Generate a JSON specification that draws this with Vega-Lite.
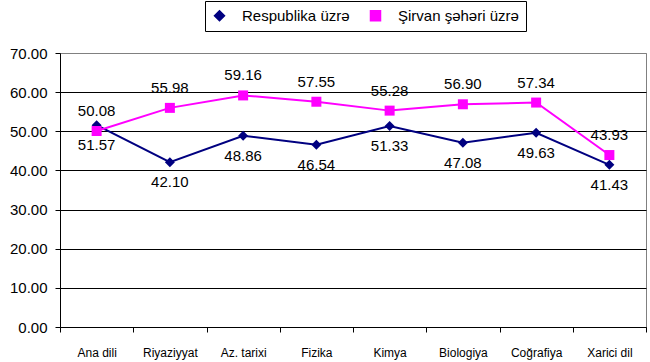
{
  "$schema": "https://vega.github.io/schema/vega-lite/v6.json",
  "width": 586,
  "height": 274,
  "autosize": {"type": "none"},
  "padding": {"left": 60, "top": 53, "right": 4, "bottom": 35},
  "background": "white",
  "config": {
    "font": "Liberation Sans",
    "view": {"stroke": "#808080", "strokeWidth": 1}
  },
  "data": {
    "values": [
      {"subject": "Ana dili", "series": "Respublika üzrə", "value": 51.57},
      {"subject": "Riyaziyyat", "series": "Respublika üzrə", "value": 42.10},
      {"subject": "Az. tarixi", "series": "Respublika üzrə", "value": 48.86},
      {"subject": "Fizika", "series": "Respublika üzrə", "value": 46.54},
      {"subject": "Kimya", "series": "Respublika üzrə", "value": 51.33},
      {"subject": "Biologiya", "series": "Respublika üzrə", "value": 47.08},
      {"subject": "Coğrafiya", "series": "Respublika üzrə", "value": 49.63},
      {"subject": "Xarici dil", "series": "Respublika üzrə", "value": 41.43},
      {"subject": "Ana dili", "series": "Şirvan şəhəri üzrə", "value": 50.08},
      {"subject": "Riyaziyyat", "series": "Şirvan şəhəri üzrə", "value": 55.98},
      {"subject": "Az. tarixi", "series": "Şirvan şəhəri üzrə", "value": 59.16},
      {"subject": "Fizika", "series": "Şirvan şəhəri üzrə", "value": 57.55},
      {"subject": "Kimya", "series": "Şirvan şəhəri üzrə", "value": 55.28},
      {"subject": "Biologiya", "series": "Şirvan şəhəri üzrə", "value": 56.90},
      {"subject": "Coğrafiya", "series": "Şirvan şəhəri üzrə", "value": 57.34},
      {"subject": "Xarici dil", "series": "Şirvan şəhəri üzrə", "value": 43.93}
    ]
  },
  "encoding": {
    "x": {
      "field": "subject",
      "type": "nominal",
      "sort": null,
      "scale": {"type": "band", "paddingInner": 0, "paddingOuter": 0},
      "axis": {
        "title": null,
        "labelAngle": 0,
        "tickBand": "extent",
        "tickSize": 5,
        "tickColor": "black",
        "domainColor": "black",
        "labelFontSize": 12,
        "labelColor": "black",
        "labelPadding": 15,
        "grid": false
      }
    },
    "y": {
      "field": "value",
      "type": "quantitative",
      "scale": {"domain": [0, 70], "nice": false},
      "axis": {
        "title": null,
        "values": [0, 10, 20, 30, 40, 50, 60, 70],
        "format": ".2f",
        "labelFontSize": 15,
        "labelColor": "black",
        "tickColor": "black",
        "tickSize": 5,
        "domainColor": "black",
        "gridColor": {"condition": {"test": "datum.value === 70", "value": "#808080"}, "value": "black"},
        "gridOpacity": 1,
        "labelPadding": 8
      }
    }
  },
  "layer": [
    {
      "mark": {"type": "line", "strokeWidth": 2},
      "encoding": {
        "color": {
          "field": "series",
          "type": "nominal",
          "sort": null,
          "scale": {"domain": ["Respublika üzrə", "Şirvan şəhəri üzrə"], "range": ["#000080", "#FF00FF"]}
        }
      }
    },
    {
      "mark": {"type": "point", "filled": true, "opacity": 1, "size": 100},
      "encoding": {
        "color": {
          "field": "series",
          "type": "nominal",
          "sort": null,
          "scale": {"domain": ["Respublika üzrə", "Şirvan şəhəri üzrə"], "range": ["#000080", "#FF00FF"]},
          "legend": {
            "title": null,
            "orient": "none",
            "legendX": 145,
            "legendY": -52,
            "direction": "horizontal",
            "padding": 7,
            "strokeColor": "black",
            "fillColor": "white",
            "labelFontSize": 15,
            "labelColor": "black",
            "labelOffset": 15,
            "symbolSize": 100,
            "columnPadding": 17,
            "labelLimit": 300
          }
        },
        "shape": {
          "field": "series",
          "type": "nominal",
          "sort": null,
          "scale": {"domain": ["Respublika üzrə", "Şirvan şəhəri üzrə"], "range": ["diamond", "square"]},
          "legend": null
        }
      }
    },
    {
      "transform": [{"filter": "datum.series === 'Respublika üzrə'"}],
      "mark": {"type": "text", "dy": 20, "fontSize": 15, "color": "black", "baseline": "middle"},
      "encoding": {"text": {"field": "value", "type": "quantitative", "format": ".2f"}}
    },
    {
      "transform": [{"filter": "datum.series === 'Şirvan şəhəri üzrə'"}],
      "mark": {"type": "text", "dy": -20, "fontSize": 15, "color": "black", "baseline": "middle"},
      "encoding": {"text": {"field": "value", "type": "quantitative", "format": ".2f"}}
    }
  ]
}
